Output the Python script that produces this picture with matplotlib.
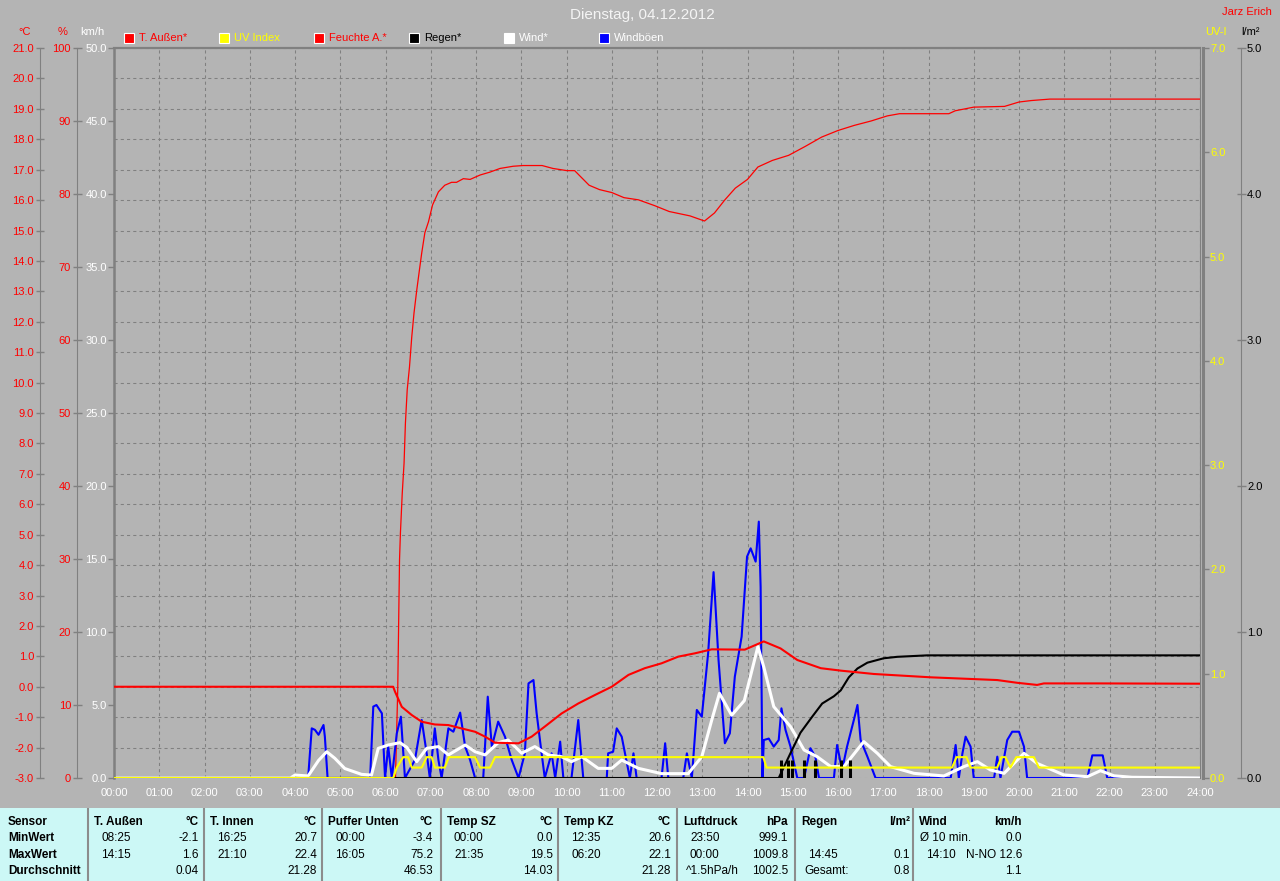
import matplotlib
matplotlib.use("Agg")
import matplotlib.pyplot as plt
from matplotlib.patches import Rectangle
from matplotlib.lines import Line2D

plt.rcParams['font.family'] = ['Liberation Sans', 'DejaVu Sans']
plt.rcParams['font.size'] = 8

# ---------------- data (time in hours of the day) ----------------
hour_labels = ["%02d:00" % h for h in range(25)]

temp_t = [0.0, 6.17, 6.21, 6.36, 6.58, 6.80, 7.09, 7.39, 7.68, 7.98, 8.20, 8.42, 8.94, 9.23, 9.52,
          9.89, 10.26, 10.63, 11.0, 11.37, 11.73, 12.10, 12.47, 12.84, 13.21, 13.94, 14.36, 14.73,
          15.10, 15.62, 16.06, 16.79, 18.05, 19.52, 19.96, 20.40, 20.55, 21.73, 24.0]
temp_v = [0.0, 0.0, -0.16, -0.66, -0.93, -1.15, -1.24, -1.26, -1.37, -1.48, -1.64, -1.84, -1.86, -1.64, -1.31,
          -0.88, -0.55, -0.27, 0.0, 0.39, 0.61, 0.77, 0.99, 1.10, 1.23, 1.22, 1.49, 1.26,
          0.88, 0.61, 0.53, 0.42, 0.31, 0.22, 0.13, 0.06, 0.11, 0.11, 0.10]

hum_t = [6.22, 6.27, 6.31, 6.33, 6.37, 6.41, 6.44, 6.48, 6.53, 6.58, 6.63, 6.69, 6.75, 6.80, 6.87, 6.95,
         7.04, 7.17, 7.31, 7.46, 7.57, 7.72, 7.87, 8.09, 8.31, 8.53, 8.82, 9.04, 9.46, 9.70, 10.01,
         10.18, 10.5, 10.73, 11.0, 11.27, 11.59, 11.95, 12.27, 12.73, 13.05, 13.27, 13.5, 13.73, 14.0,
         14.23, 14.55, 14.91, 15.27, 15.64, 16.0, 16.36, 16.73, 17.09, 17.36, 18.45, 18.59, 19.0, 19.68,
         20.0, 20.27, 20.68, 24.0]
hum_v = [0.0, 12.0, 29.9, 33.6, 39.0, 43.1, 48.6, 53.2, 56.3, 60.4, 63.7, 66.8, 69.6, 71.9, 74.7, 76.2,
         78.5, 80.3, 81.2, 81.6, 81.6, 82.1, 82.0, 82.6, 83.0, 83.5, 83.8, 83.9, 83.9, 83.5, 83.2,
         83.2, 81.2, 80.6, 80.2, 79.5, 79.2, 78.4, 77.6, 77.0, 76.3, 77.4, 79.2, 80.8, 82.0,
         83.7, 84.6, 85.3, 86.5, 87.8, 88.7, 89.4, 90.0, 90.7, 91.0, 91.0, 91.4, 91.9, 92.0,
         92.6, 92.8, 93.0, 93.0]

wind_t = [0.0, 3.9, 4.0, 4.29, 4.52, 4.70, 4.88, 5.10, 5.47, 5.69, 5.84, 6.06, 6.32, 6.47, 6.69, 6.91,
          7.17, 7.39, 7.76, 7.98, 8.20, 8.49, 8.71, 9.01, 9.30, 9.60, 9.89, 10.11, 10.34, 10.70, 11.0,
          11.22, 11.59, 12.10, 12.69, 12.99, 13.21, 13.38, 13.65, 13.93, 14.23, 14.36, 14.58, 14.95,
          15.25, 15.54, 15.84, 16.13, 16.57, 16.87, 17.16, 17.68, 18.34, 18.78, 19.08, 19.37, 19.67,
          20.11, 20.40, 20.99, 21.51, 21.80, 22.1, 22.5, 24.0]
wind_v = [0.0, 0.0, 0.2, 0.14, 1.2, 1.8, 1.35, 0.65, 0.25, 0.2, 2.03, 2.26, 2.42, 2.1, 1.12, 2.03,
          2.15, 1.58, 2.26, 1.8, 1.58, 2.42, 2.6, 1.7, 2.15, 1.58, 1.46, 1.12, 1.46, 0.66, 0.66,
          1.23, 0.66, 0.3, 0.3, 1.46, 3.97, 5.8, 4.3, 5.3, 9.0, 7.6, 4.89, 3.52,
          1.92, 1.46, 0.78, 0.78, 2.49, 1.69, 0.78, 0.32, 0.14, 0.78, 1.12, 0.55, 0.32,
          1.69, 1.0, 0.21, 0.09, 0.5, 0.15, 0.05, 0.0]

gust_t = [0.0, 4.29, 4.37, 4.44, 4.52, 4.63, 4.66, 4.72, 5.66, 5.73, 5.80, 5.92, 5.99, 6.06, 6.14, 6.25,
          6.34, 6.43, 6.65, 6.80, 6.91, 6.98, 7.09, 7.17, 7.24, 7.39, 7.50, 7.65, 7.76, 7.87, 7.98,
          8.16, 8.26, 8.35, 8.49, 8.64, 8.79, 8.94, 9.08, 9.16, 9.27, 9.34, 9.45, 9.52, 9.67, 9.75,
          9.86, 9.93, 10.11, 10.26, 10.37, 10.89, 10.92, 11.03, 11.11, 11.22, 11.40, 11.48, 11.55,
          12.10, 12.18, 12.25, 12.58, 12.66, 12.77, 12.88, 12.99, 13.13, 13.25, 13.36, 13.50, 13.61,
          13.72, 13.87, 13.99, 14.07, 14.18, 14.25, 14.29, 14.33, 14.36, 14.47, 14.58, 14.69, 14.75,
          14.84, 14.95, 15.10, 15.25, 15.39, 15.50, 15.58, 15.91, 15.98, 16.09, 16.20, 16.35, 16.43,
          16.50, 16.65, 16.83, 18.49, 18.60, 18.67, 18.75, 18.82, 18.93, 19.0, 19.45, 19.52, 19.59,
          19.74, 19.85, 20.0, 20.11, 20.18, 21.51, 21.62, 21.85, 21.95, 24.0]
gust_v = [0.0, 0.0, 3.4, 3.3, 2.96, 3.63, 2.83, 0.0, 0.0, 4.89, 5.0, 4.43, 0.0, 2.15, 0.0, 3.06,
          4.2, 0.0, 1.23, 3.97, 1.69, 0.0, 3.4, 1.23, 0.0, 3.4, 3.17, 4.48, 2.15, 1.23, 0.0,
          0.0, 5.57, 2.15, 3.86, 2.83, 1.23, 0.0, 1.69, 6.48, 6.71, 4.43, 1.69, 0.0, 1.69, 0.0,
          2.49, 0.0, 0.0, 3.97, 0.0, 0.0, 1.69, 1.8, 3.4, 2.83, 0.0, 1.69, 0.0,
          0.0, 2.38, 0.0, 0.0, 1.69, 0.0, 4.66, 4.2, 8.54, 14.1, 8.08, 2.38, 3.06,
          6.94, 9.68, 15.16, 15.73, 14.82, 17.56, 13.1, 0.0, 2.6, 2.7, 2.15, 2.6, 4.77,
          3.29, 2.15, 0.0, 0.0, 2.04, 1.46, 0.0, 0.0, 2.26, 0.55, 2.15, 3.97, 5.0,
          2.6, 1.46, 0.0, 0.0, 2.26, 0.0, 1.69, 2.83, 2.15, 0.0, 0.0, 1.46, 0.0,
          2.6, 3.17, 3.17, 2.15, 0.0, 0.0, 1.55, 1.55, 0.0, 0.0]

uv_t = [0.0, 6.17, 6.25, 6.39, 6.50, 6.58, 6.80, 6.91, 7.02, 7.09, 7.31, 7.40, 7.98, 8.09, 8.31, 8.42,
        14.35, 14.42, 18.52, 18.62, 18.84, 18.93, 19.52, 19.61, 19.70, 19.81, 19.94, 20.33, 20.44, 24.0]
uv_v = [0.0, 0.0, 0.1, 0.2, 0.2, 0.1, 0.1, 0.2, 0.2, 0.1, 0.1, 0.2, 0.2, 0.1, 0.1, 0.2,
        0.2, 0.1, 0.1, 0.2, 0.2, 0.1, 0.1, 0.2, 0.2, 0.1, 0.2, 0.2, 0.1, 0.1]

rain_t = [0.0, 14.69, 14.95, 15.17, 15.43, 15.65, 15.91, 16.06, 16.24, 16.43, 16.65, 17.01, 17.31, 17.97, 24.0]
rain_v = [0.0, 0.0, 0.17, 0.31, 0.42, 0.51, 0.56, 0.60, 0.69, 0.75, 0.79, 0.82, 0.83, 0.84, 0.84]

rain_bar_t = [14.73, 14.89, 14.99, 15.25, 15.50, 16.07, 16.26]
rain_bar_v = [0.12, 0.12, 0.12, 0.12, 0.12, 0.12, 0.12]

# table
tab_sensors = ["T. Außen", "T. Innen", "Puffer Unten", "Temp SZ", "Temp KZ", "Luftdruck", "Regen", "Wind"]
tab_units = ["°C", "°C", "°C", "°C", "°C", "hPa", "l/m²", "km/h"]
tab_min_time = ["08:25", "16:25", "00:00", "00:00", "12:35", "23:50", "", "Ø 10 min."]
tab_min_val = ["-2.1", "20.7", "-3.4", "0.0", "20.6", "999.1", "", "0.0"]
tab_max_time = ["14:15", "21:10", "16:05", "21:35", "06:20", "00:00", "14:45", "14:10"]
tab_max_val = ["1.6", "22.4", "75.2", "19.5", "22.1", "1009.8", "0.1", "N-NO 12.6"]
tab_avg_label = ["", "", "", "", "", "^1.5hPa/h", "Gesamt:", ""]
tab_avg_val = ["0.04", "21.28", "46.53", "14.03", "21.28", "1002.5", "0.8", "1.1"]
row_labels = ["Sensor", "MinWert", "MaxWert", "Durchschnitt"]

# ---------------- figure ----------------
W, H = 1280, 881
BG = '#B4B4B4'
GRAY = '#808080'
fig = plt.figure(figsize=(W / 100, H / 100), dpi=100, facecolor=BG)

L, R, T, B = 114, 1200, 48, 778
pos = [L / W, 1 - B / H, (R - L) / W, (B - T) / H]
PW = R - L


def fx(x):
    return x / W


def fy(y):
    return 1 - y / H


def px(p):
    return p * 0.72


# grid / °C axis
axg = fig.add_axes(pos, facecolor=BG)
axg.set_xlim(0, 24)
axg.set_ylim(-3, 21)
axg.set_xticks(range(25))
axg.set_xticklabels(hour_labels)
axg.tick_params(axis='x', length=0, pad=px(10), labelcolor='white')
axg.set_yticks(range(-3, 22))
axg.set_yticklabels(["%.1f" % v for v in range(-3, 22)])
axg.tick_params(axis='y', direction='inout', length=px(8), width=1, color=GRAY, pad=px(2),
                labelcolor='red')
axg.grid(True, color=GRAY, linestyle=(0, (3, 3)), linewidth=0.75)
axg.spines['left'].set_position(('axes', (40 - L) / PW))
axg.spines['left'].set_color(GRAY)
axg.spines['left'].set_linewidth(0.8)
axg.spines['top'].set_color(GRAY)
axg.spines['top'].set_linewidth(1.6)
axg.spines['right'].set_color(GRAY)
axg.spines['right'].set_linewidth(0.8)
axg.spines['bottom'].set_visible(False)


def overlay(sharey=None):
    a = fig.add_axes(pos, facecolor='none', sharex=axg, sharey=sharey)
    for s in a.spines.values():
        s.set_visible(False)
    a.tick_params(axis='x', bottom=False, labelbottom=False)
    return a


# humidity
axh = overlay()
axh.set_ylim(0, 100)
axh.set_yticks(range(0, 101, 10))
axh.set_yticklabels([str(v) for v in range(0, 101, 10)])
axh.spines['left'].set_visible(True)
axh.spines['left'].set_position(('axes', (77 - L) / PW))
axh.spines['left'].set_color(GRAY)
axh.spines['left'].set_linewidth(0.8)
axh.tick_params(axis='y', direction='inout', length=px(9), width=1, color=GRAY, pad=px(1.5),
                labelcolor='red')
axh.plot(hum_t, hum_v, color='red', lw=0.9)

# wind / gusts
axk = overlay()
axk.set_ylim(0, 50)
axk.set_yticks(range(0, 51, 5))
axk.set_yticklabels(["%.1f" % v for v in range(0, 51, 5)])
axk.spines['left'].set_visible(True)
axk.spines['left'].set_color(GRAY)
axk.spines['left'].set_linewidth(1.8)
axk.tick_params(axis='y', direction='out', length=px(6), width=1, color=GRAY, pad=px(1),
                labelcolor='white')
axk.plot(gust_t, gust_v, color='#0000FF', lw=1.5)
axk.plot(wind_t, wind_v, color='white', lw=2.2)

# rain
axr = overlay()
axr.set_ylim(0, 5)
axr.yaxis.tick_right()
axr.set_yticks(range(0, 6))
axr.set_yticklabels(["%.1f" % v for v in range(0, 6)])
axr.spines['right'].set_visible(True)
axr.spines['right'].set_position(('axes', (1241 - L) / PW))
axr.spines['right'].set_color(GRAY)
axr.spines['right'].set_linewidth(0.8)
axr.tick_params(axis='y', direction='inout', length=px(9), width=1, color=GRAY, pad=px(1.5),
                labelcolor='black')
axr.vlines(rain_bar_t, 0, rain_bar_v, color='black', lw=2.2)
axr.plot(rain_t, rain_v, color='black', lw=1.5)

# UV
axu = overlay()
axu.set_ylim(0, 7)
axu.yaxis.tick_right()
axu.set_yticks(range(0, 8))
axu.set_yticklabels(["%.1f" % v for v in range(0, 8)])
axu.spines['right'].set_visible(True)
axu.spines['right'].set_position(('axes', (1203 - L) / PW))
axu.spines['right'].set_color(GRAY)
axu.spines['right'].set_linewidth(2.2)
axu.tick_params(axis='y', direction='out', length=px(6), width=1, color=GRAY, pad=px(1),
                labelcolor='#FFFF00')
axu.plot(uv_t, uv_v, color='#FFFF00', lw=1.5)

# temperature
axt = overlay(sharey=axg)
axt.tick_params(axis='y', left=False, labelleft=False)
axt.plot(temp_t, temp_v, color='red', lw=1.5)

# ---------------- texts ----------------
fig.text(fx(642), fy(15), "Dienstag, 04.12.2012", color='#F4F4F4', fontsize=11, ha='center', va='center')
fig.text(fx(1272), fy(12), "Jarz Erich", color='red', fontsize=8, ha='right', va='center')
fig.text(fx(25), fy(32), "°C", color='red', ha='center', va='center')
fig.text(fx(63), fy(32), "%", color='red', ha='center', va='center')
fig.text(fx(92), fy(32), "km/h", color='white', ha='center', va='center')
fig.text(fx(1205), fy(32), "UV-I", color='#FFFF00', ha='left', va='center')
fig.text(fx(1241), fy(32), "l/m²", color='black', ha='left', va='center')

leg_labels = ["T. Außen*", "UV Index", "Feuchte A.*", "Regen*", "Wind*", "Windböen"]
leg_fill = ['red', '#FFFF00', 'red', 'black', 'white', '#0000FF']
leg_text = ['red', '#FFFF00', 'red', 'black', 'white', 'white']
for i, (lab, fc, tc) in enumerate(zip(leg_labels, leg_fill, leg_text)):
    x0 = 124 + 95 * i
    fig.patches.append(Rectangle((fx(x0), fy(43)), 10 / W, 10 / H, transform=fig.transFigure,
                                 facecolor=fc, edgecolor='white', lw=0.8))
    fig.text(fx(x0 + 15), fy(38), lab, color=tc, ha='left', va='center')

# ---------------- table ----------------
axtab = fig.add_axes([0, 0, 1, 73 / H], facecolor='#CCF8F6')
axtab.set_xlim(0, W)
axtab.set_ylim(H, 808)
axtab.set_xticks([])
axtab.set_yticks([])
for s in axtab.spines.values():
    s.set_visible(False)

TFS = 8.5
rows_y = [822, 838, 855, 871]
for lab, yy in zip(row_labels, rows_y):
    axtab.text(8, yy, lab, fontweight='bold', fontsize=TFS, ha='left', va='center', color='black')

dividers = [88, 204, 322, 441, 558, 677, 795, 913]
col_right = [199, 317, 433, 553, 671, 788, 910, 1022]
for i in range(len(tab_sensors)):
    d = dividers[i]
    axtab.add_line(Line2D([d, d], [808, H], color='#8C8C8C', lw=1.5))
    axtab.text(d + 6, rows_y[0], tab_sensors[i], fontweight='bold', fontsize=TFS, ha='left', va='center')
    axtab.text(col_right[i], rows_y[0], tab_units[i], fontweight='bold', fontsize=TFS, ha='right', va='center')
    tx = d + 7 if i == 7 else d + 13
    axtab.text(tx, rows_y[1], tab_min_time[i], fontsize=TFS, ha='left', va='center')
    axtab.text(col_right[i], rows_y[1], tab_min_val[i], fontsize=TFS, ha='right', va='center')
    axtab.text(d + 13, rows_y[2], tab_max_time[i], fontsize=TFS, ha='left', va='center')
    axtab.text(col_right[i], rows_y[2], tab_max_val[i], fontsize=TFS, ha='right', va='center')
    axtab.text(d + 9, rows_y[3], tab_avg_label[i], fontsize=TFS, ha='left', va='center')
    axtab.text(col_right[i], rows_y[3], tab_avg_val[i], fontsize=TFS, ha='right', va='center')

fig.savefig("out.png", dpi=100, facecolor=BG)
